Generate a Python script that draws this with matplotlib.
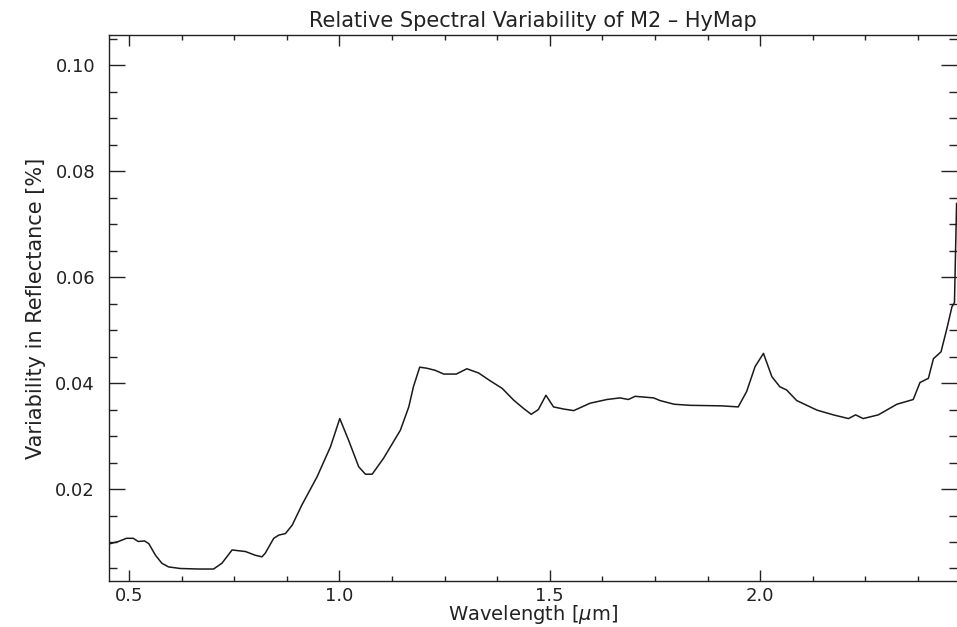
import matplotlib
matplotlib.use("Agg")
import matplotlib.pyplot as plt
from matplotlib.ticker import MultipleLocator, FormatStrFormatter

# wavelength [um] and relative variability
wavelength = [0.456, 0.475, 0.494, 0.510, 0.522, 0.537, 0.547, 0.563, 0.578, 0.594,
              0.622, 0.666, 0.701, 0.721, 0.745, 0.777, 0.800, 0.816, 0.824, 0.844,
              0.856, 0.872, 0.888, 0.911, 0.947, 0.979, 1.001, 1.022, 1.046, 1.062,
              1.078, 1.105, 1.145, 1.165, 1.176, 1.191, 1.208, 1.228, 1.248, 1.278,
              1.303, 1.331, 1.359, 1.387, 1.414, 1.438, 1.456, 1.473, 1.491, 1.509,
              1.533, 1.557, 1.596, 1.636, 1.667, 1.687, 1.703, 1.747, 1.762, 1.796,
              1.834, 1.909, 1.948, 1.968, 1.988, 2.008, 2.028, 2.047, 2.063, 2.087,
              2.135, 2.174, 2.210, 2.227, 2.245, 2.281, 2.325, 2.364, 2.380, 2.400,
              2.412, 2.430, 2.444, 2.456, 2.462, 2.467]
variability = [0.0097, 0.0101, 0.0107, 0.0107, 0.0101, 0.0102, 0.0097, 0.0075, 0.0060, 0.0053,
               0.0050, 0.0049, 0.0049, 0.0060, 0.0085, 0.0082, 0.0075, 0.0072, 0.0079, 0.0107,
               0.0113, 0.0116, 0.0132, 0.0170, 0.0223, 0.0280, 0.0333, 0.0292, 0.0242, 0.0228,
               0.0228, 0.0258, 0.0311, 0.0355, 0.0393, 0.0430, 0.0428, 0.0424, 0.0417, 0.0417,
               0.0427, 0.0419, 0.0404, 0.0390, 0.0368, 0.0352, 0.0341, 0.0350, 0.0377, 0.0355,
               0.0351, 0.0348, 0.0362, 0.0369, 0.0372, 0.0369, 0.0375, 0.0372, 0.0367, 0.0360,
               0.0358, 0.0357, 0.0355, 0.0384, 0.0431, 0.0456, 0.0412, 0.0393, 0.0387, 0.0367,
               0.0349, 0.0340, 0.0333, 0.0340, 0.0333, 0.0340, 0.0360, 0.0369, 0.0401, 0.0409,
               0.0446, 0.0459, 0.0503, 0.0544, 0.0552, 0.0739]

fig = plt.figure(figsize=(9.57, 6.27), dpi=100)
ax = fig.add_axes([109 / 957, 46 / 627, 848 / 957, 546 / 627])

ax.plot(wavelength, variability, color="#1a1a1a", linewidth=1.1)

ax.set_xlim(0.4525, 2.468)
ax.set_ylim(0.00264, 0.1057)

ax.xaxis.set_major_locator(MultipleLocator(0.5))
ax.xaxis.set_minor_locator(MultipleLocator(0.125))
ax.xaxis.set_major_formatter(FormatStrFormatter("%.1f"))
ax.yaxis.set_major_locator(MultipleLocator(0.02))
ax.yaxis.set_minor_locator(MultipleLocator(0.005))
ax.yaxis.set_major_formatter(FormatStrFormatter("%.2f"))

ax.tick_params(axis="both", which="both", direction="in", top=True, right=True,
               colors="#222222", labelsize=13, width=1.0)
ax.tick_params(axis="x", which="major", length=8, pad=4)
ax.tick_params(axis="x", which="minor", length=3.6)
ax.tick_params(axis="y", which="major", length=11.5, pad=10)
ax.tick_params(axis="y", which="minor", length=5.8)

for side in ["left", "bottom", "top"]:
    ax.spines[side].set_linewidth(1.0)
    ax.spines[side].set_color("#222222")
ax.spines["right"].set_visible(False)

ax.set_title("Relative Spectral Variability of M2 – HyMap", fontsize=15,
             color="#222222", pad=6)
ax.set_xlabel(r"Wavelength [$\mu$m]", fontsize=14, color="#222222", labelpad=-1)
ax.set_ylabel("Variability in Reflectance [%]", fontsize=15, color="#222222", labelpad=7)

fig.savefig("out.png", dpi=100)
